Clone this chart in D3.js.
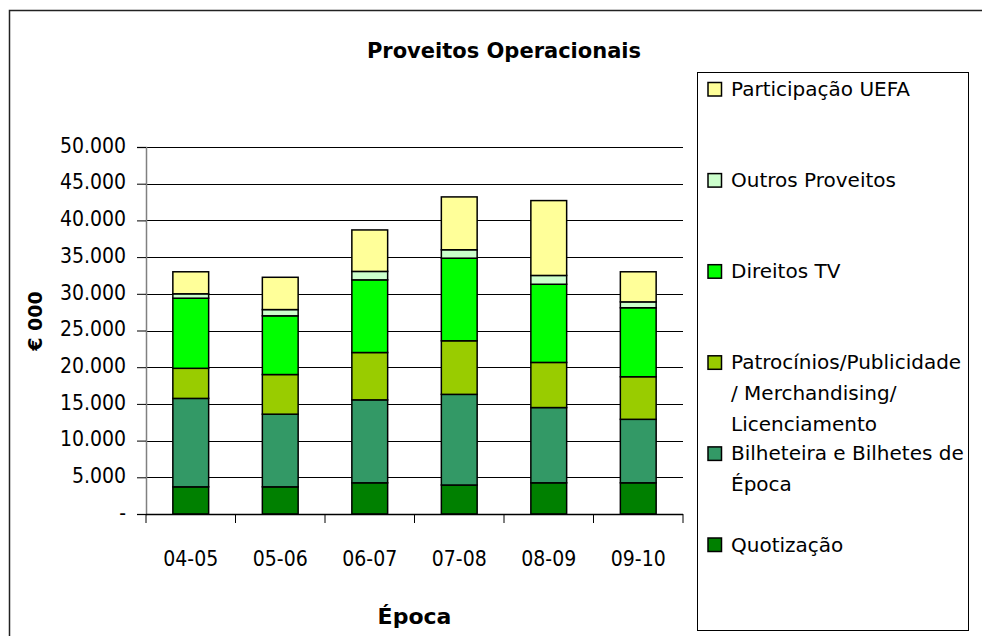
<!DOCTYPE html>
<html>
<head>
<meta charset="utf-8">
<script src="https://cdn.jsdelivr.net/npm/d3@7"></script>
<style>
    body { margin: 0; background: #fff; }
    .tick-label { font-family: 'DejaVu Sans Condensed', 'DejaVu Sans', sans-serif; font-size: 21px; fill: #000; }
    .axis-title { font-family: 'DejaVu Sans', sans-serif; font-weight: bold; fill: #000; }
    .legend-text { font-family: 'DejaVu Sans', sans-serif; font-size: 20px; fill: #000; }
</style>
</head>
<body>
<div id="chartDiv"></div>
<script>
// values in € 000
const seasons = ['04-05', '05-06', '06-07', '07-08', '08-09', '09-10'];
const quotizacao = [3700, 3700, 4250, 3950, 4250, 4250];
const bilheteira = [12050, 9900, 11300, 12350, 10250, 8650];
const patrocinios = [4100, 5400, 6450, 7300, 6150, 5800];
const direitosTV = [9550, 8000, 9900, 11250, 10650, 9400];
const outrosProveitos = [600, 850, 1150, 1150, 1200, 800];
const participacaoUEFA = [3000, 4400, 5650, 7200, 10200, 4100];

// stacking order, bottom to top
const seriesKeys = ['quot', 'bilh', 'patr', 'tv', 'outros', 'uefa'];
const seriesValues = [quotizacao, bilheteira, patrocinios, direitosTV, outrosProveitos, participacaoUEFA];
const seriesColors = ['#008000', '#339966', '#99cc00', '#00ff00', '#ccffcc', '#ffff99'];
const seriesLabels = [
    ['Quotização'],
    ['Bilheteira e Bilhetes de', 'Época'],
    ['Patrocínios/Publicidade', '/ Merchandising/', 'Licenciamento'],
    ['Direitos TV'],
    ['Outros Proveitos'],
    ['Participação UEFA']
];
const yTicks = [0, 5000, 10000, 15000, 20000, 25000, 30000, 35000, 40000, 45000, 50000];

class ProveitosChart {
    constructor() {
        this.width = 982;
        this.height = 636;
        this.plot = { left: 146, right: 683, top: 147, bottom: 514 };

        this.rows = seasons.map((s, i) => {
            let row = { season: s };
            seriesKeys.forEach((k, j) => row[k] = seriesValues[j][i]);
            return row;
        });

        this.drawPlot();
    }

    drawPlot() {
        this.svg = d3.select('#chartDiv')
            .append('svg')
            .attr('width', this.width)
            .attr('height', this.height);

        // outer chart frame
        this.svg.append('rect')
            .attr('x', 9.5).attr('y', 10.5)
            .attr('width', 1000).attr('height', 700)
            .attr('fill', 'none')
            .attr('stroke', '#222')
            .attr('stroke-width', 1.5);

        this.svg.append('text')
            .classed('axis-title', true)
            .attr('x', 504).attr('y', 58)
            .attr('text-anchor', 'middle')
            .style('font-size', '21px')
            .text('Proveitos Operacionais');

        this.setupScales();
        this.drawGrid();
        this.drawBars();
        this.drawAxes();
        this.drawLegend();
    }

    setupScales() {
        this.xScale = d3.scaleBand()
            .domain(seasons)
            .range([this.plot.left, this.plot.right])
            .paddingInner(0.6)
            .paddingOuter(0.3);
        this.yScale = d3.scaleLinear()
            .domain([0, 50000])
            .range([this.plot.bottom, this.plot.top]);
    }

    drawGrid() {
        this.svg.append('g')
            .selectAll('line')
            .data(yTicks.filter(d => d > 0))
            .join('line')
            .attr('x1', this.plot.left)
            .attr('x2', this.plot.right)
            .attr('y1', d => Math.round(this.yScale(d)) + 0.5)
            .attr('y2', d => Math.round(this.yScale(d)) + 0.5)
            .attr('stroke', '#000')
            .attr('stroke-width', 1);
    }

    drawBars() {
        let stack = d3.stack().keys(seriesKeys);
        let layers = stack(this.rows);

        let groups = this.svg.append('g')
            .selectAll('g')
            .data(layers)
            .join('g')
            .attr('fill', (d, i) => seriesColors[i]);

        groups.selectAll('rect')
            .data(d => d)
            .join('rect')
            .attr('x', d => this.xScale(d.data.season))
            .attr('width', this.xScale.bandwidth())
            .attr('y', d => this.yScale(d[1]))
            .attr('height', d => this.yScale(d[0]) - this.yScale(d[1]))
            .attr('stroke', '#000')
            .attr('stroke-width', 1.5);
    }

    drawAxes() {
        let ptLocale = d3.formatLocale({ decimal: ',', thousands: '.', grouping: [3], currency: ['', ' €'] });
        let fmt = ptLocale.format(',.0f');

        let yAxis = d3.axisLeft(this.yScale)
            .tickValues(yTicks)
            .tickSize(9)
            .tickPadding(11)
            .tickFormat(d => d === 0 ? '-' : fmt(d));
        let yG = this.svg.append('g')
            .attr('transform', `translate(${this.plot.left}, 0)`)
            .call(yAxis);
        yG.select('.domain').attr('stroke', '#808080').attr('stroke-width', 1.5);
        yG.selectAll('.tick line').attr('stroke', '#000');
        yG.selectAll('.tick text')
            .classed('tick-label', true)
            .attr('font-size', null)
            .attr('font-family', null)
            .attr('dy', '0.25em');

        // category ticks sit on the band edges, labels in the middle
        let edges = seasons.map(s => this.xScale(s) - this.xScale.step() * 0.3);
        edges.push(this.plot.right);
        let xG = this.svg.append('g')
            .attr('transform', `translate(0, ${this.plot.bottom})`);
        xG.append('line')
            .attr('x1', this.plot.left).attr('x2', this.plot.right)
            .attr('y1', 0.5).attr('y2', 0.5)
            .attr('stroke', '#000').attr('stroke-width', 1.5);
        xG.selectAll('line.edge')
            .data(edges)
            .join('line')
            .classed('edge', true)
            .attr('x1', d => d).attr('x2', d => d)
            .attr('y1', 0).attr('y2', 9)
            .attr('stroke', '#000');
        xG.selectAll('text')
            .data(seasons)
            .join('text')
            .classed('tick-label', true)
            .attr('x', d => this.xScale(d) + this.xScale.bandwidth() / 2)
            .attr('y', 52)
            .attr('text-anchor', 'middle')
            .text(d => d);

        this.svg.append('text')
            .classed('axis-title', true)
            .attr('x', (this.plot.left + this.plot.right) / 2)
            .attr('y', 624)
            .attr('text-anchor', 'middle')
            .style('font-size', '22px')
            .text('Época');

        this.svg.append('text')
            .classed('axis-title', true)
            .attr('transform', 'translate(42, 321) rotate(-90)')
            .attr('text-anchor', 'middle')
            .style('font-size', '19px')
            .text('€ 000');
    }

    drawLegend() {
        let legend = this.svg.append('g').attr('id', 'legend-group');
        legend.append('rect')
            .attr('x', 697.5).attr('y', 72.5)
            .attr('width', 271).attr('height', 558)
            .attr('fill', '#fff')
            .attr('stroke', '#000')
            .attr('stroke-width', 1);

        // legend lists the top series first
        let order = d3.range(seriesKeys.length).reverse();
        let items = legend.selectAll('g.item')
            .data(order)
            .join('g')
            .classed('item', true)
            .attr('transform', (d, i) => `translate(708, ${96 + i * 91.1})`);

        items.append('rect')
            .attr('x', 0).attr('y', -13.5)
            .attr('width', 13.5).attr('height', 13.5)
            .attr('fill', d => seriesColors[d])
            .attr('stroke', '#000')
            .attr('stroke-width', 1.5);

        items.append('text')
            .classed('legend-text', true)
            .selectAll('tspan')
            .data(d => seriesLabels[d])
            .join('tspan')
            .attr('x', 23)
            .attr('y', (d, i) => i * 31)
            .text(d => d);
    }
}

new ProveitosChart();
</script>
</body>
</html>
